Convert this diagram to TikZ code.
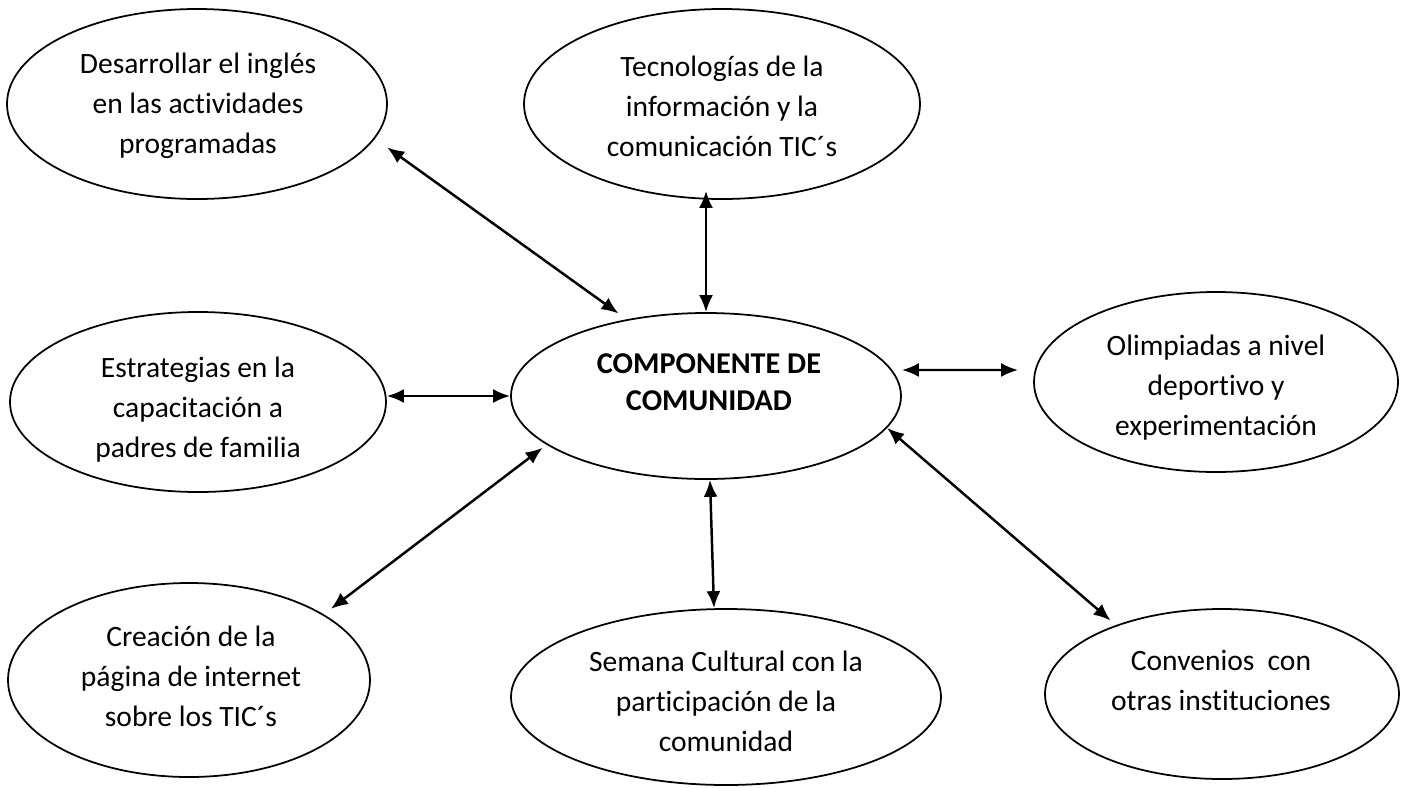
\documentclass[tikz,border=0pt]{standalone}
\usepackage{fontspec}
\setmainfont{Carlito}[Ligatures=NoCommon]
\usetikzlibrary{arrows.meta,shapes.geometric}

\begin{document}
\begin{tikzpicture}[x=0.2mm,y=-0.2mm,>={Latex[length=3.4mm,width=2.8mm]},
  oval/.style={draw,ellipse,line width=1pt,inner sep=0pt},
  txt/.style={inner sep=0pt,align=center,font=\fontsize{16.8}{22.76}\selectfont},
  link/.style={<->,line width=1.4pt}]
\useasboundingbox (0,0) rectangle (1404,787);
% elipses
\node[oval,minimum width=76mm,minimum height=38mm] (ingles) at (197,104) {};
\node[oval,minimum width=79.2mm,minimum height=38mm] (tics) at (722,104) {};
\node[oval,minimum width=75.2mm,minimum height=36mm] (padres) at (198,402) {};
\node[oval,minimum width=78mm,minimum height=33.2mm] (comp) at (706,396) {};
\node[oval,minimum width=72.8mm,minimum height=36mm] (olimp) at (1216,382) {};
\node[oval,minimum width=72.4mm,minimum height=38.8mm] (pagina) at (189,680) {};
\node[oval,minimum width=86mm,minimum height=35.2mm] (semana) at (726,697) {};
\node[oval,minimum width=70.8mm,minimum height=34mm] (conven) at (1222,694) {};
% textos
\node[txt] (ingles-t) at (198,105.5) {Desarrollar el inglés\\en las actividades\\programadas};
\node[txt] (tics-t) at (722,106.5) {Tecnologías de la\\información y la\\comunicación TIC´s};
\node[txt] (padres-t) at (198,409.5) {Estrategias en la\\capacitación a\\padres de familia};
\node[txt,font=\fontsize{17.2}{21.05}\selectfont\bfseries] (comp-t) at (709,382)
  {COMPONENTE DE\\COMUNIDAD};
\node[txt] (olimp-t) at (1216,387.5) {Olimpiadas a nivel\\deportivo y\\experimentación};
\node[txt] (pagina-t) at (191,676.5) {Creación de la\\página de internet\\sobre los TIC´s};
\node[txt] (semana-t) at (726,701.5) {Semana Cultural con la\\participación de la\\comunidad};
\node[txt] (conven-t) at (1221,680) {Convenios\ \ con\\otras instituciones};
% flechas hacia el componente central
\draw[link,shorten <=3mm,shorten >=2mm] (ingles.-11.5) -- (comp.136.7);
\draw[link,shorten <=-1.8mm] (comp.north |- tics.south) -- (comp.north);
\draw[link] (padres.east |- comp.west) -- (comp.west);
\draw[link] ([yshift=5.2mm]comp.east) -- ([xshift=-3mm,yshift=2.4mm]olimp.west);
\draw[link,shorten <=1mm,shorten >=1.8mm] (comp.197.6) -- (pagina.26.4);
\draw[link] ([xshift=0.8mm]comp.south) -- ([xshift=-2.4mm]semana.north);
\draw[link,shorten >=1.4mm] (comp.-10.2) -- (conven.147);
\end{tikzpicture}
\end{document}
